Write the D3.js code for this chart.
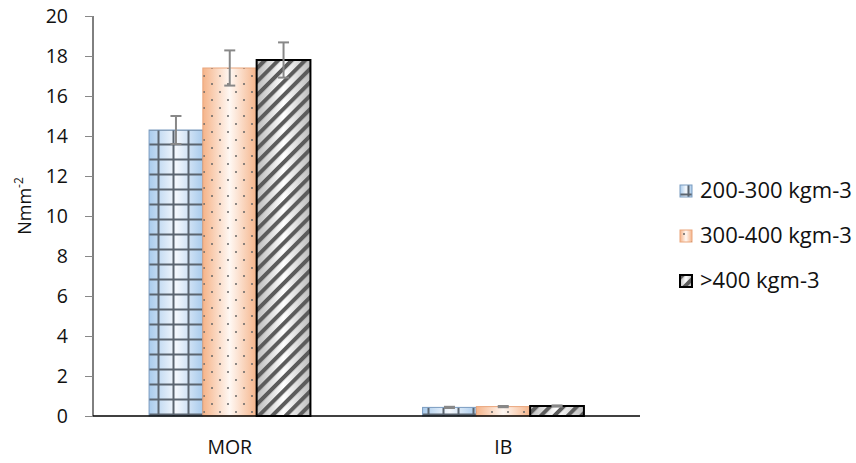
<!DOCTYPE html>
<html>
<head>
<meta charset="utf-8">
<script src="https://cdn.jsdelivr.net/npm/d3@7"></script>
<style>
  body { margin: 0; background: #fff; }
  text { font-family: "Open Sans", "Noto Sans", sans-serif; fill: #111; }
</style>
</head>
<body>
<div id="chart"></div>
<script>
const categories = ["MOR", "IB"];
const seriesNames = ["200-300 kgm-3", "300-400 kgm-3", ">400 kgm-3"];
const low = [14.3, 0.43];
const mid = [17.4, 0.47];
const high = [17.8, 0.5];
const lowErr = [0.7, 0.03];
const midErr = [0.88, 0.03];
const highErr = [0.88, 0.03];
const yTicks = [0, 2, 4, 6, 8, 10, 12, 14, 16, 18, 20];

const series = [
  { name: seriesNames[0], values: low, errs: lowErr, grad: "gBlue", pat: "pGrid", stroke: "#7b9cc0", sw: 1 },
  { name: seriesNames[1], values: mid, errs: midErr, grad: "gOrange", pat: "pDots", stroke: "#eaa67c", sw: 1 },
  { name: seriesNames[2], values: high, errs: highErr, grad: "gGray", pat: "pStripe", stroke: "#000", sw: 2 }
];

const W = 856, H = 463;
const svg = d3.select("#chart").append("svg").attr("width", W).attr("height", H);

const x0 = d3.scaleBand().domain(categories).range([93, 640]).paddingInner(0.41).paddingOuter(0.205);
const x1 = d3.scaleBand().domain(seriesNames).range([0, x0.bandwidth()]);
const y = d3.scaleLinear().domain([0, 20]).range([416, 16]);

// gradients and patterns
const defs = svg.append("defs");
function grad(id, edge, mid) {
  const g = defs.append("linearGradient").attr("id", id).attr("x1", "0").attr("x2", "1").attr("y1", "0").attr("y2", "0");
  g.append("stop").attr("offset", "0").attr("stop-color", edge);
  g.append("stop").attr("offset", "0.5").attr("stop-color", mid);
  g.append("stop").attr("offset", "1").attr("stop-color", edge);
}
grad("gBlue", "#a9cbec", "#f4f8fd");
grad("gOrange", "#f5b48a", "#fff8f3");
grad("gGray", "#bdbdbd", "#ffffff");

const pg = defs.append("pattern").attr("id", "pGrid").attr("patternUnits", "userSpaceOnUse")
  .attr("width", 15).attr("height", 15).attr("x", 151).attr("y", 2);
pg.append("path").attr("d", "M7.5,0V15M0,7.5H15").attr("stroke", "#5b6570").attr("stroke-width", 2).attr("fill", "none");

const pd = defs.append("pattern").attr("id", "pDots").attr("patternUnits", "userSpaceOnUse")
  .attr("width", 16).attr("height", 16);
pd.append("circle").attr("cx", 4).attr("cy", 4).attr("r", 1).attr("fill", "#666");
pd.append("circle").attr("cx", 12).attr("cy", 12).attr("r", 1).attr("fill", "#666");

const ps = defs.append("pattern").attr("id", "pStripe").attr("patternUnits", "userSpaceOnUse")
  .attr("width", 9.5).attr("height", 9.5).attr("patternTransform", "rotate(45)");
ps.append("rect").attr("x", 0).attr("y", 0).attr("width", 4).attr("height", 9.5).attr("fill", "#5c5c5c");

// y axis
const yAxis = svg.append("g").attr("transform", "translate(93,0)")
  .call(d3.axisLeft(y).tickValues(yTicks).tickSize(8).tickPadding(17));
yAxis.select(".domain").attr("stroke", "#000").attr("d", "M0,16V416");
yAxis.selectAll(".tick line").attr("stroke", "#888");
yAxis.selectAll("text").style("font-size", "19.5px").attr("fill", "#111");

// bars
categories.forEach((c, ci) => {
  series.forEach(s => {
    const bx = x0(c) + x1(s.name);
    const by = y(s.values[ci]);
    const bh = y(0) - by;
    const g = svg.append("g");
    g.append("rect").attr("x", bx).attr("y", by).attr("width", x1.bandwidth()).attr("height", bh).attr("fill", `url(#${s.grad})`);
    g.append("rect").attr("x", bx).attr("y", by).attr("width", x1.bandwidth()).attr("height", bh).attr("fill", `url(#${s.pat})`);
    g.append("rect").attr("x", bx).attr("y", by).attr("width", x1.bandwidth()).attr("height", bh)
      .attr("fill", "none").attr("stroke", s.stroke).attr("stroke-width", s.sw);
  });
});

// error bars
categories.forEach((c, ci) => {
  series.forEach(s => {
    const cx = x0(c) + x1(s.name) + x1.bandwidth() / 2;
    const v = s.values[ci], e = s.errs[ci];
    const g = svg.append("g").attr("stroke", "#888").attr("stroke-width", 2);
    g.append("line").attr("x1", cx).attr("x2", cx).attr("y1", y(v + e)).attr("y2", y(v - e));
    g.append("line").attr("x1", cx - 5.5).attr("x2", cx + 5.5).attr("y1", y(v + e)).attr("y2", y(v + e));
    g.append("line").attr("x1", cx - 5.5).attr("x2", cx + 5.5).attr("y1", y(v - e)).attr("y2", y(v - e));
  });
});

// x axis
const xAxis = svg.append("g").attr("transform", "translate(0,416)")
  .call(d3.axisBottom(x0).tickSize(0).tickPadding(24));
xAxis.select(".domain").attr("stroke", "#000").attr("stroke-width", 1.5).attr("d", "M93,0H640");
xAxis.selectAll("text").style("font-size", "19.5px").attr("fill", "#111");

// y label
const yl = svg.append("text").attr("transform", "translate(31,206) rotate(-90)")
  .attr("text-anchor", "middle").style("font-size", "18px");
yl.append("tspan").text("Nmm");
yl.append("tspan").attr("dy", -8).style("font-size", "12px").text("-2");

// legend
const leg = svg.append("g").selectAll("g").data(series).join("g")
  .attr("transform", (d, i) => `translate(680,${185 + i * 45})`);
leg.append("rect").attr("width", 12).attr("height", 12).attr("fill", d => `url(#${d.grad})`);
leg.append("rect").attr("width", 12).attr("height", 12).attr("fill", d => `url(#${d.pat})`);
leg.append("rect").attr("width", 12).attr("height", 12).attr("fill", "none")
  .attr("stroke", d => d.stroke).attr("stroke-width", d => d.sw);
leg.append("text").attr("x", 20).attr("y", 13).style("font-size", "22px").text(d => d.name);
</script>
</body>
</html>
